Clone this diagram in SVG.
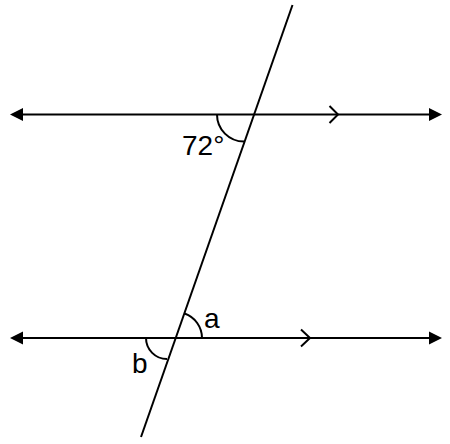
<svg xmlns="http://www.w3.org/2000/svg" width="450" height="444" viewBox="0 0 450 444">
  <style>
    .ln { stroke: #000; stroke-width: 2; fill: none; }
    .ah { fill: #000; stroke: none; }
    .lbl { font-family: "Liberation Sans", Arial, sans-serif; font-size: 28px; fill: #000; }
  </style>
  <rect width="450" height="444" fill="#fff"/>
  <g id="connectors">
    <line class="ln" x1="20" y1="114.5" x2="432" y2="114.5"/>
    <polygon class="ah" points="10,114.5 23,108 23,121"/>
    <polygon class="ah" points="442,114.5 429,108 429,121"/>
    <polyline class="ln" points="329.5,106 338,114.5 329.5,123"/>
    <line class="ln" x1="20" y1="338" x2="432" y2="338"/>
    <polygon class="ah" points="10,338 23,331.5 23,344.5"/>
    <polygon class="ah" points="442,338 429,331.5 429,344.5"/>
    <polyline class="ln" points="301,329.5 310,338 301,346.5"/>
    <line class="ln" x1="292.5" y1="5" x2="141" y2="437"/>
  </g>
  <g id="angle-72">
    <path class="ln" d="M217,114.5 A27,27 0 0 0 244,141.5"/>
    <text class="lbl" x="182" y="155">72°</text>
  </g>
  <g id="angle-a">
    <path class="ln" d="M184.6,313.5 A26,26 0 0 1 202,338"/>
    <text class="lbl" x="204" y="328">a</text>
  </g>
  <g id="angle-b">
    <path class="ln" d="M146,338 A21,21 0 0 0 167,359"/>
    <text class="lbl" x="132" y="373">b</text>
  </g>
</svg>
